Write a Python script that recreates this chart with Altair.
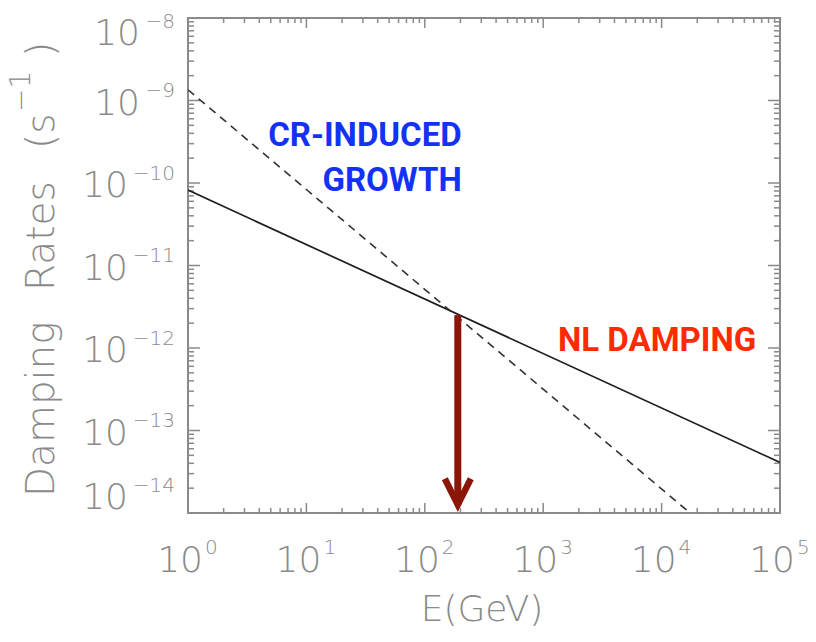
import altair as alt
import pandas as pd

# ---------------- data ----------------
nl_energy = [1.0, 1.0e5]            # GeV, solid line (NL damping)
nl_rate = [8.2e-11, 4.1e-14]        # s^-1
cr_energy = [1.0, 1.74e4]           # GeV, dashed line (CR-induced growth)
cr_rate = [1.35e-9, 1.0e-14]        # s^-1
arrow_energy = [190.0]
arrow_top = [2.5e-12]
arrow_tip = [1.26e-14]

x_exps = [0, 1, 2, 3, 4, 5]
y_exps = [-8, -9, -10, -11, -12, -13, -14]
minor_mults = [2, 3, 4, 5, 6, 7, 8, 9]

labels_text = ["CR-INDUCED", "GROWTH", "NL DAMPING"]
labels_energy = [205.0, 205.0, 1334.0]
labels_rate = [3.7e-10, 1.06e-10, 1.22e-12]

# ---------------- layout / style ----------------
W, H = 592, 495
GRAY = "#8a8a8a"
ARROW = "#8b1608"
BLUE = "#1432f5"
RED = "#ff2a00"
THIN = "DejaVu Sans"
BOLD = "Liberation Sans Narrow, Roboto, Liberation Sans, sans-serif"

xs = alt.Scale(type="log", domain=[1, 1e5])
ys = alt.Scale(type="log", domain=[1e-14, 1e-8])

nl_df = pd.DataFrame({"E": nl_energy, "R": nl_rate})
cr_df = pd.DataFrame({"E": cr_energy, "R": cr_rate})
arrow_df = pd.DataFrame({"E": arrow_energy, "top": arrow_top, "tip": arrow_tip})
ann_df = pd.DataFrame({"t": labels_text, "E": labels_energy, "R": labels_rate})

ylab = pd.DataFrame({"e": y_exps,
                     "v": [10.0 ** e for e in y_exps],
                     "s": ["\u2212" + str(abs(e)) for e in y_exps],
                     "b": ["10"] * len(y_exps)})
xlab = pd.DataFrame({"e": x_exps,
                     "v": [10.0 ** e for e in x_exps],
                     "s": [str(e) for e in x_exps],
                     "b": ["10"] * len(x_exps)})

y_major = pd.DataFrame({"v": [10.0 ** e for e in y_exps]})
y_minor = pd.DataFrame({"v": [m * 10.0 ** e for e in range(-14, -8) for m in minor_mults]})
x_major = pd.DataFrame({"v": [10.0 ** e for e in x_exps]})
x_minor = pd.DataFrame({"v": [m * 10.0 ** e for e in range(0, 5) for m in minor_mults]})

X = alt.X("E:Q", scale=xs, axis=None)
Y = alt.Y("R:Q", scale=ys, axis=None)

solid = alt.Chart(nl_df).mark_line(color="#1e1e1e", strokeWidth=1.7, clip=True).encode(x=X, y=Y)
dashed = alt.Chart(cr_df).mark_line(color="#333333", strokeWidth=1.6, strokeDash=[8, 6], clip=True).encode(x=X, y=Y)

shaft = alt.Chart(arrow_df).mark_rule(color=ARROW, strokeWidth=7).encode(
    x=alt.X("E:Q", scale=xs, axis=None),
    y=alt.Y("top:Q", scale=ys, axis=None),
    y2="tip:Q")
head = alt.Chart(arrow_df).mark_point(
    shape="M -0.5 -1 L 0 0 L 0.5 -1", size=2704, filled=False,
    stroke=ARROW, strokeWidth=6.5, opacity=1).encode(
    x=alt.X("E:Q", scale=xs, axis=None),
    y=alt.Y("tip:Q", scale=ys, axis=None))

ann_blue = alt.Chart(ann_df).transform_filter("datum.t != 'NL DAMPING'").mark_text(
    font=BOLD, fontWeight="bold", fontSize=33, color=BLUE, align="right", baseline="middle"
).encode(x=X, y=Y, text="t:N")
ann_red = alt.Chart(ann_df).transform_filter("datum.t == 'NL DAMPING'").mark_text(
    font=BOLD, fontWeight="bold", fontSize=33, color=RED, align="left", baseline="middle"
).encode(x=X, y=Y, text="t:N")

# ---------------- ticks (inside the frame, on all four sides) ----------------
def yticks(df, length):
    yv = alt.Y("v:Q", scale=ys, axis=None)
    left = alt.Chart(df).mark_rule(color=GRAY, strokeWidth=1.5).encode(
        y=yv, x=alt.value(0), x2=alt.value(length))
    right = alt.Chart(df).mark_rule(color=GRAY, strokeWidth=1.5).encode(
        y=yv, x=alt.value(W - length), x2=alt.value(W))
    return [left, right]

def xticks(df, length):
    xv = alt.X("v:Q", scale=xs, axis=None)
    bottom = alt.Chart(df).mark_rule(color=GRAY, strokeWidth=1.5).encode(
        x=xv, y=alt.value(H - length), y2=alt.value(H))
    top = alt.Chart(df).mark_rule(color=GRAY, strokeWidth=1.5).encode(
        x=xv, y=alt.value(0), y2=alt.value(length))
    return [bottom, top]

ticks = yticks(y_major, 12) + yticks(y_minor, 6) + xticks(x_major, 10) + xticks(x_minor, 5)

# ---------------- tick labels ----------------
def ytxt(filt, field, xpix, dy, size):
    return alt.Chart(ylab).transform_filter(filt).mark_text(
        font=THIN, fontWeight=200, fontSize=size, color=GRAY, align="right",
        baseline="middle", dy=dy).encode(
        y=alt.Y("v:Q", scale=ys, axis=None), x=alt.value(xpix), text=f"{field}:N")

ylabels = [
    ytxt("datum.e == -8", "b", -48, 16, 36),
    ytxt("datum.e == -9", "b", -48, 3, 36),
    ytxt("datum.e <= -10 && datum.e >= -13", "b", -60, 3, 36),
    ytxt("datum.e == -14", "b", -60, -15, 36),
    ytxt("datum.e == -8", "s", -13, 3.5, 20),
    ytxt("datum.e < -8 && datum.e > -14", "s", -13, -9.5, 20),
    ytxt("datum.e == -14", "s", -13, -27.5, 20),
]

xlab_base = alt.Chart(xlab).mark_text(
    font=THIN, fontWeight=200, fontSize=36, color=GRAY, align="right", baseline="middle", dx=15
).encode(x=alt.X("v:Q", scale=xs, axis=None), y=alt.value(H + 48), text="b:N")
xlab_exp = alt.Chart(xlab).mark_text(
    font=THIN, fontWeight=200, fontSize=20, color=GRAY, align="left", baseline="middle", dx=17
).encode(x=alt.X("v:Q", scale=xs, axis=None), y=alt.value(H + 34.5), text="s:N")

# ---------------- axis titles ----------------
xtitle = alt.Chart(pd.DataFrame({"t": ["E(GeV)"]})).mark_text(
    font=THIN, fontWeight=200, fontSize=36, color=GRAY, align="center", baseline="middle"
).encode(x=alt.value(W / 2 - 2), y=alt.value(H + 97), text="t:N")

# y title drawn in pieces (rotated, reading bottom to top), with a real superscript
def ypiece(txt, ystart, xcenter, size):
    return alt.Chart(pd.DataFrame({"t": [txt]})).mark_text(
        font=THIN, fontWeight=200, fontSize=size, color=GRAY, align="left",
        baseline="middle", angle=270
    ).encode(x=alt.value(xcenter), y=alt.value(ystart), text="t:N")

ytitle = [
    ypiece("Damping", 497 - 18, -146, 39),
    ypiece("Rates", 291 - 18, -146, 39),
    ypiece("(s", 149 - 18, -146, 39),
    ypiece("\u22121", 112 - 18, -166, 28),
    ypiece(")", 57 - 18, -146, 39),
]

chart = alt.layer(
    *ticks, solid, dashed, shaft, head, ann_blue, ann_red,
    *ylabels, xlab_base, xlab_exp, xtitle, *ytitle
).properties(
    width=W, height=H,
    autosize=alt.AutoSizeParams(type="none"),
    padding={"left": 188, "top": 18, "right": 36, "bottom": 129},
    background="white",
).configure_view(stroke=GRAY, strokeWidth=2)

chart.save("out.html", embed_options={"renderer": "svg", "actions": False})
